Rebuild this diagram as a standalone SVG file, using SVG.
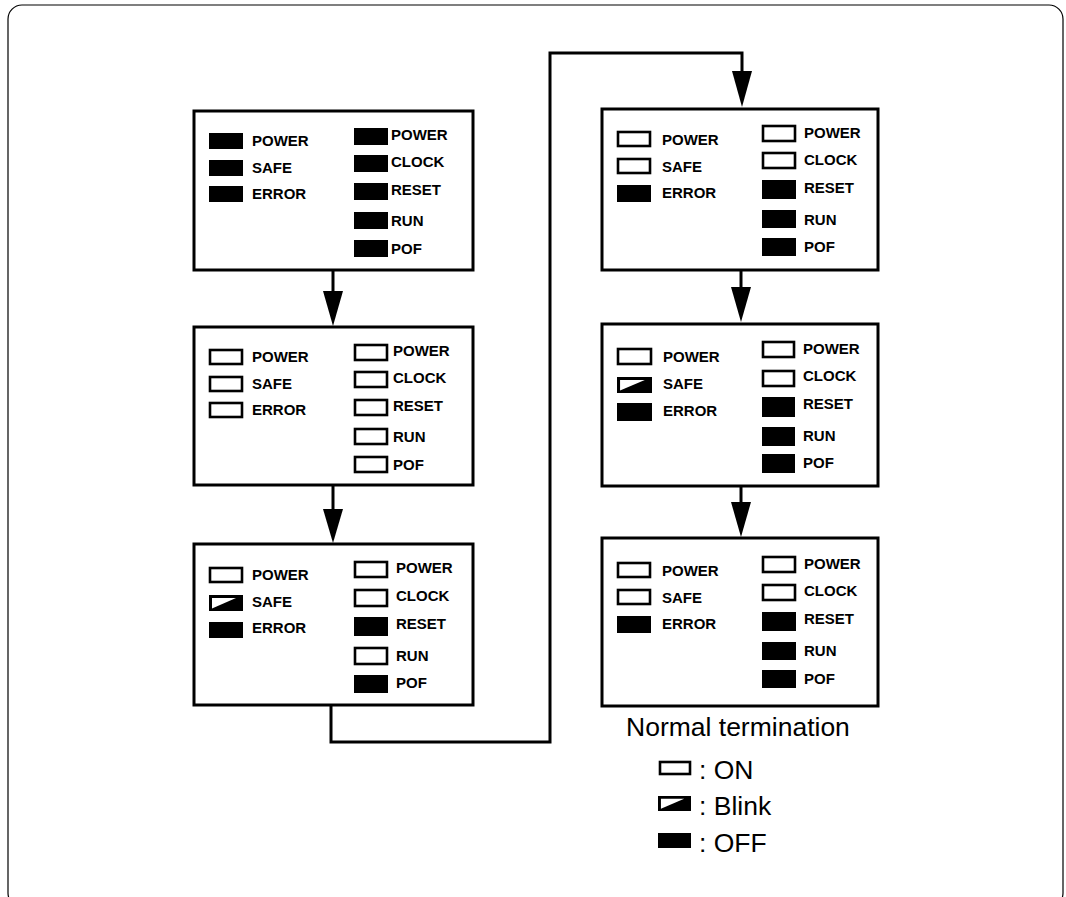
<svg xmlns="http://www.w3.org/2000/svg" width="1066" height="897" viewBox="0 0 1066 897">
<defs>
<style>
.frame{fill:none;stroke:#000;stroke-width:1.2}
.box{fill:#fff;stroke:#000;stroke-width:3}
.on{fill:#fff;stroke:#000;stroke-width:2.6}
.off{fill:#000}
.lbl{font-family:"Liberation Sans",Arial,sans-serif;font-weight:bold;font-size:15px;fill:#000}
.big{font-family:"Liberation Sans",Arial,sans-serif;font-size:26.5px;fill:#000}
.wire{fill:none;stroke:#000;stroke-width:3}
.head{fill:#000}
</style>
<symbol id="blink" viewBox="0 0 34 16" preserveAspectRatio="none">
<rect x="0" y="0" width="34" height="16" fill="#000"/>
<polygon points="3,3 27,3 3,13.5" fill="#fff"/>
</symbol>
</defs>
<rect width="1066" height="897" fill="#fff"/>
<rect class="frame" x="8" y="5" width="1055" height="902" rx="14"/>

<g id="connectors">
<line class="wire" x1="333" y1="270" x2="333" y2="300"/>
<line class="wire" x1="333" y1="485" x2="333" y2="515"/>
<path class="wire" d="M331,705 V742 H550 V53 H742 V80"/>
<line class="wire" x1="741" y1="270" x2="741" y2="295"/>
<line class="wire" x1="741" y1="486" x2="741" y2="510"/>
<polygon class="head" points="323,291 343,291 333,326"/>
<polygon class="head" points="323,509 343,509 333,543"/>
<polygon class="head" points="732,71 752,71 742,107"/>
<polygon class="head" points="731,287 751,287 741,322"/>
<polygon class="head" points="731,502 751,502 741,537"/>
</g>

<g id="box1">
<rect class="box" x="194" y="111" width="279" height="159"/>
<rect class="off" x="209" y="133" width="34" height="16"/>
<rect class="off" x="209" y="160" width="34" height="16"/>
<rect class="off" x="209" y="186" width="34" height="16"/>
<rect class="off" x="354" y="128" width="34" height="17"/>
<rect class="off" x="354" y="155" width="34" height="17"/>
<rect class="off" x="354" y="183" width="34" height="17"/>
<rect class="off" x="354" y="212" width="34" height="17"/>
<rect class="off" x="354" y="240" width="34" height="17"/>
<text class="lbl" x="252" y="146">POWER</text>
<text class="lbl" x="252" y="173">SAFE</text>
<text class="lbl" x="252" y="199">ERROR</text>
<text class="lbl" x="391" y="140">POWER</text>
<text class="lbl" x="391" y="167">CLOCK</text>
<text class="lbl" x="391" y="195">RESET</text>
<text class="lbl" x="391" y="226">RUN</text>
<text class="lbl" x="391" y="254">POF</text>
</g>

<g id="box2">
<rect class="box" x="194" y="327" width="279" height="158"/>
<rect class="on" x="210" y="350" width="32" height="14"/>
<rect class="on" x="210" y="377" width="32" height="14"/>
<rect class="on" x="210" y="403" width="32" height="14"/>
<rect class="on" x="355" y="345" width="32" height="15"/>
<rect class="on" x="355" y="372" width="32" height="15"/>
<rect class="on" x="355" y="400" width="32" height="15"/>
<rect class="on" x="355" y="429" width="32" height="15"/>
<rect class="on" x="355" y="457" width="32" height="15"/>
<text class="lbl" x="252" y="362">POWER</text>
<text class="lbl" x="252" y="389">SAFE</text>
<text class="lbl" x="252" y="415">ERROR</text>
<text class="lbl" x="393" y="356">POWER</text>
<text class="lbl" x="393" y="383">CLOCK</text>
<text class="lbl" x="393" y="411">RESET</text>
<text class="lbl" x="393" y="442">RUN</text>
<text class="lbl" x="393" y="470">POF</text>
</g>

<g id="box3">
<rect class="box" x="194" y="544" width="279" height="161"/>
<rect class="on" x="210" y="568" width="32" height="14"/>
<use href="#blink" x="209" y="595" width="34" height="16"/>
<rect class="off" x="209" y="622" width="34" height="16"/>
<rect class="on" x="355" y="562" width="32" height="15"/>
<rect class="on" x="355" y="590" width="32" height="16"/>
<rect class="off" x="354" y="617" width="34" height="19"/>
<rect class="on" x="355" y="648" width="32" height="16"/>
<rect class="off" x="354" y="675" width="34" height="18"/>
<text class="lbl" x="252" y="580">POWER</text>
<text class="lbl" x="252" y="607">SAFE</text>
<text class="lbl" x="252" y="633">ERROR</text>
<text class="lbl" x="396" y="573">POWER</text>
<text class="lbl" x="396" y="601">CLOCK</text>
<text class="lbl" x="396" y="629">RESET</text>
<text class="lbl" x="396" y="661">RUN</text>
<text class="lbl" x="396" y="688">POF</text>
</g>

<g id="box4">
<rect class="box" x="602" y="109" width="276" height="161"/>
<rect class="on" x="618" y="132" width="32" height="14"/>
<rect class="on" x="618" y="159" width="32" height="14"/>
<rect class="off" x="617" y="185" width="34" height="17"/>
<rect class="on" x="763" y="126" width="32" height="15"/>
<rect class="on" x="763" y="153" width="32" height="15"/>
<rect class="off" x="762" y="180" width="34" height="19"/>
<rect class="off" x="762" y="210" width="34" height="18"/>
<rect class="off" x="762" y="238" width="34" height="18"/>
<text class="lbl" x="662" y="145">POWER</text>
<text class="lbl" x="662" y="172">SAFE</text>
<text class="lbl" x="662" y="198">ERROR</text>
<text class="lbl" x="804" y="138">POWER</text>
<text class="lbl" x="804" y="165">CLOCK</text>
<text class="lbl" x="804" y="193">RESET</text>
<text class="lbl" x="804" y="225">RUN</text>
<text class="lbl" x="804" y="252">POF</text>
</g>

<g id="box5">
<rect class="box" x="602" y="324" width="276" height="162"/>
<rect class="on" x="618" y="349" width="33" height="15"/>
<use href="#blink" x="617" y="377" width="35" height="16"/>
<rect class="off" x="617" y="403" width="35" height="18"/>
<rect class="on" x="763" y="342" width="31" height="15"/>
<rect class="on" x="763" y="371" width="31" height="15"/>
<rect class="off" x="762" y="397" width="33" height="20"/>
<rect class="off" x="762" y="427" width="33" height="19"/>
<rect class="off" x="762" y="454" width="33" height="19"/>
<text class="lbl" x="663" y="362">POWER</text>
<text class="lbl" x="663" y="389">SAFE</text>
<text class="lbl" x="663" y="416">ERROR</text>
<text class="lbl" x="803" y="354">POWER</text>
<text class="lbl" x="803" y="381">CLOCK</text>
<text class="lbl" x="803" y="409">RESET</text>
<text class="lbl" x="803" y="441">RUN</text>
<text class="lbl" x="803" y="468">POF</text>
</g>

<g id="box6">
<rect class="box" x="602" y="538" width="276" height="168"/>
<rect class="on" x="618" y="563" width="32" height="14"/>
<rect class="on" x="618" y="590" width="32" height="14"/>
<rect class="off" x="617" y="616" width="34" height="17"/>
<rect class="on" x="763" y="557" width="32" height="15"/>
<rect class="on" x="763" y="585" width="32" height="15"/>
<rect class="off" x="762" y="612" width="34" height="19"/>
<rect class="off" x="762" y="642" width="34" height="18"/>
<rect class="off" x="762" y="670" width="34" height="18"/>
<text class="lbl" x="662" y="576">POWER</text>
<text class="lbl" x="662" y="603">SAFE</text>
<text class="lbl" x="662" y="629">ERROR</text>
<text class="lbl" x="804" y="569">POWER</text>
<text class="lbl" x="804" y="596">CLOCK</text>
<text class="lbl" x="804" y="624">RESET</text>
<text class="lbl" x="804" y="656">RUN</text>
<text class="lbl" x="804" y="684">POF</text>
</g>

<g id="caption">
<text class="big" x="626" y="736">Normal termination</text>
</g>

<g id="legend">
<rect class="on" x="660" y="762" width="30" height="12"/>
<text class="big" x="699" y="779">: ON</text>
<use href="#blink" x="658" y="796" width="33" height="15"/>
<text class="big" x="699" y="815">: Blink</text>
<rect class="off" x="658" y="833" width="33" height="15"/>
<text class="big" x="699" y="852">: OFF</text>
</g>
</svg>
